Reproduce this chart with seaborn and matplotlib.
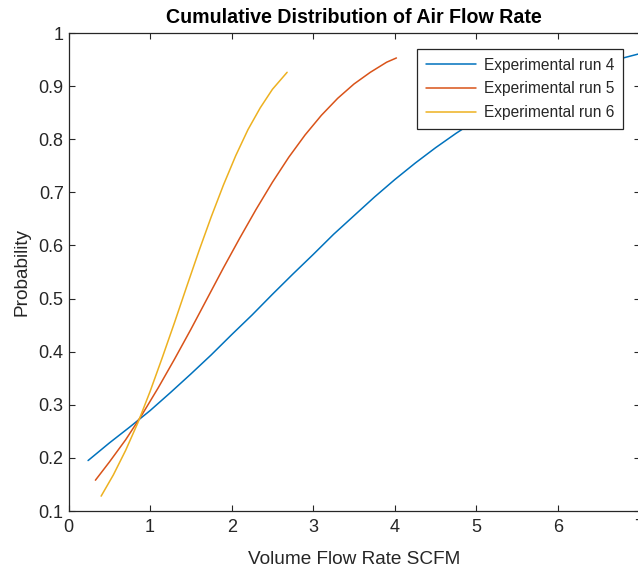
import matplotlib
matplotlib.use("Agg")
import matplotlib.pyplot as plt
import pandas as pd
import seaborn as sns
from matplotlib.ticker import FuncFormatter

# ---- data ----
series_labels = ["Experimental run 4", "Experimental run 5", "Experimental run 6"]

run4_flow = [0.24, 0.5, 0.75, 1.0, 1.25, 1.5, 1.75, 2.0, 2.25, 2.5, 2.75, 3.0,
             3.25, 3.5, 3.75, 4.0, 4.25, 4.5, 4.75, 5.0, 5.25, 5.5, 5.75, 6.0,
             6.25, 6.5, 6.75, 7.0]
run4_prob = [0.195, 0.228, 0.258, 0.289, 0.323, 0.358, 0.394, 0.432, 0.469,
             0.508, 0.546, 0.583, 0.621, 0.656, 0.691, 0.724, 0.755, 0.784,
             0.811, 0.836, 0.858, 0.879, 0.897, 0.913, 0.927, 0.940, 0.951,
             0.961]

run5_flow = [0.33, 0.5, 0.7, 0.9, 1.1, 1.3, 1.5, 1.7, 1.9, 2.1, 2.3, 2.5, 2.7,
             2.9, 3.1, 3.3, 3.5, 3.7, 3.9, 4.02]
run5_prob = [0.158, 0.192, 0.234, 0.281, 0.332, 0.386, 0.442, 0.500, 0.558,
             0.614, 0.668, 0.719, 0.766, 0.808, 0.845, 0.877, 0.904, 0.926,
             0.945, 0.953]

run6_flow = [0.40, 0.55, 0.7, 0.85, 1.0, 1.15, 1.3, 1.45, 1.6, 1.75, 1.9, 2.05,
             2.2, 2.35, 2.5, 2.68]
run6_prob = [0.128, 0.168, 0.214, 0.266, 0.325, 0.389, 0.455, 0.523, 0.590,
             0.654, 0.714, 0.769, 0.818, 0.859, 0.894, 0.926]

x_ticks = [0, 1, 2, 3, 4, 5, 6, 7]
y_ticks = [0.1, 0.2, 0.3, 0.4, 0.5, 0.6, 0.7, 0.8, 0.9, 1.0]

line_colors = ["#0072BD", "#D95319", "#EDB120"]

frames = []
for lab, xs, ps in zip(series_labels,
                       [run4_flow, run5_flow, run6_flow],
                       [run4_prob, run5_prob, run6_prob]):
    frames.append(pd.DataFrame({"flow": xs, "prob": ps, "run": lab}))
df = pd.concat(frames, ignore_index=True)

sns.set_style("white")
plt.rcParams["font.family"] = ["Liberation Sans", "DejaVu Sans"]

W, H = 638, 573
fig = plt.figure(figsize=(W / 100, H / 100), dpi=100)
left, right, top, bottom = 68.5, 639.5, 33, 511
ax = fig.add_axes([left / W, 1 - bottom / H, (right - left) / W, (bottom - top) / H])

sns.lineplot(data=df, x="flow", y="prob", hue="run", hue_order=series_labels,
             palette=line_colors, estimator=None, sort=False, linewidth=1.1,
             ax=ax, legend=True)

axis_col = "#262626"
ax.set_xlim(0, 7)
ax.set_ylim(0.1, 1.0)
ax.set_xticks(x_ticks)
ax.set_yticks(y_ticks)
fmt = FuncFormatter(lambda v, p: f"{v:g}")
ax.xaxis.set_major_formatter(fmt)
ax.yaxis.set_major_formatter(fmt)
ax.tick_params(axis="both", which="major", direction="in", length=4.5,
               width=0.8, colors=axis_col, labelsize=13, top=True, right=True,
               bottom=True, left=True)
ax.tick_params(axis="x", pad=5.5)
ax.tick_params(axis="y", pad=3.5)
for s in ax.spines.values():
    s.set_visible(True)
    s.set_color(axis_col)
    s.set_linewidth(0.9)

ax.set_title("Cumulative Distribution of Air Flow Rate", fontsize=14.1,
             fontweight="bold", color="#000000", pad=7.5)
ax.set_xlabel("Volume Flow Rate SCFM", fontsize=13.7, color=axis_col, labelpad=11)
ax.set_ylabel("Probability", fontsize=13.7, color=axis_col, labelpad=6)

handles, labels = ax.get_legend_handles_labels()
leg = ax.legend(handles, labels, loc="upper right",
                bbox_to_anchor=(623 / W, 1 - 49 / H), bbox_transform=fig.transFigure,
                borderaxespad=0, frameon=True, fancybox=False, edgecolor=axis_col,
                framealpha=1, fontsize=11.2, handlelength=3.2, labelspacing=0.56,
                borderpad=0.55, handletextpad=0.55)
leg.get_frame().set_linewidth(0.9)
for t in leg.get_texts():
    t.set_color(axis_col)

fig.savefig("out.png", dpi=100)
